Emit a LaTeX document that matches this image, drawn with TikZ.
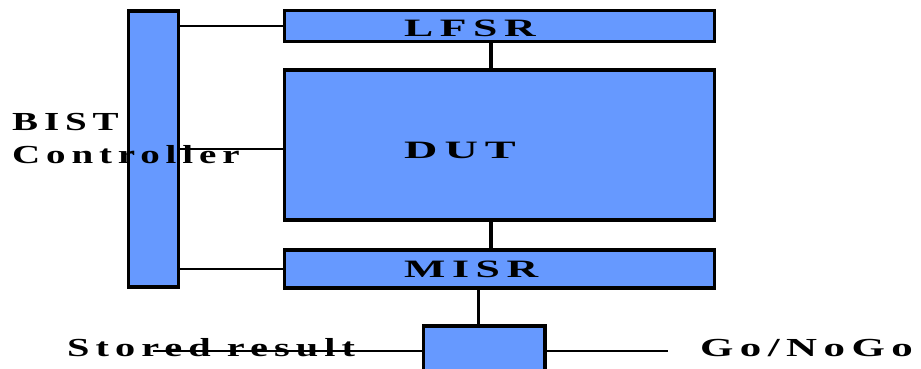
\documentclass[tikz,border=0pt]{standalone}
\usepackage{fontspec}
\usepackage{graphicx}
\newfontfamily\pixfont[LetterSpace=15]{Liberation Serif}
\newcommand\widetext[2][1.5]{\scalebox{#1}[1]{\bfseries #2}}
\definecolor{boxblue}{RGB}{102,153,255}
\tikzset{
  blockbox/.style={draw=black, fill=boxblue, line width=3.5pt, inner sep=0pt, outer sep=0pt},
  thinwire/.style={draw=black, line width=2.2pt},
  thickwire/.style={draw=black, line width=3.5pt},
  lbl/.style={inner sep=0pt, anchor=base west, font=\pixfont\fontsize{26}{30}\selectfont},
  boxlbl/.style={inner sep=0pt, anchor=base west, font=\pixfont\fontsize{25}{30}\selectfont}
}
\begin{document}
\begin{tikzpicture}[x=1pt,y=1pt]
\useasboundingbox (0,0) rectangle (921,368);
% blocks (y = 368 - image y)
\node[blockbox, minimum width=50pt, minimum height=276pt, anchor=north west] (ctrl) at (128.5,357) {};
\node[blockbox, minimum width=430pt, minimum height=31pt, anchor=north west] (lfsr) at (284.5,357.5) {};
\node[blockbox, minimum width=430pt, minimum height=150pt, anchor=north west] (dut) at (284.5,298) {};
\node[blockbox, minimum width=121.5pt, minimum height=56pt, anchor=north west] (cmp) at (423.5,42) {};
\node[blockbox, minimum width=430pt, minimum height=38pt, anchor=north west] (misr) at (284.5,118) {};
% labels
\node[boxlbl] (tlfsr) at (404,332) {\widetext[1.75]{LFSR}};
\node[boxlbl] (tdut) at (404,210) {\widetext[1.85]{DUT}};
\node[boxlbl] (tmisr) at (404,91) {\widetext[1.75]{MISR}};
\node[lbl] (tbist) at (12,238) {\widetext{BIST}};
\node[lbl] (tctrl) at (12,205) {\widetext{Controller}};
\node[lbl] (tstored) at (67,12) {\widetext[1.55]{Stored result}};
\node[lbl] (tgo) at (700,12) {\widetext[1.65]{Go/NoGo}};
% connectors
\draw[thinwire] (ctrl.east |- lfsr.west) -- (lfsr.west);
\draw[thinwire] ([yshift=-4pt]ctrl.east |- dut.west) -- ([yshift=-4pt]dut.west);
\draw[thinwire] (ctrl.east |- misr.west) -- (misr.west);
\draw[thickwire] ([xshift=-8.5pt]lfsr.south) -- ([xshift=-8.5pt]lfsr.south |- dut.north);
\draw[thickwire] ([xshift=-8.5pt]dut.south) -- ([xshift=-8.5pt]dut.south |- misr.north);
\draw[thickwire] ([xshift=-6pt]cmp.north) -- ([xshift=-6pt]cmp.north |- misr.south);
\coordinate (srend) at (153,17);
\coordinate (goend) at (668,17);
\draw[thinwire] (srend) -- (srend -| cmp.west);
\draw[thinwire] (goend -| cmp.east) -- (goend);
\end{tikzpicture}
\end{document}
